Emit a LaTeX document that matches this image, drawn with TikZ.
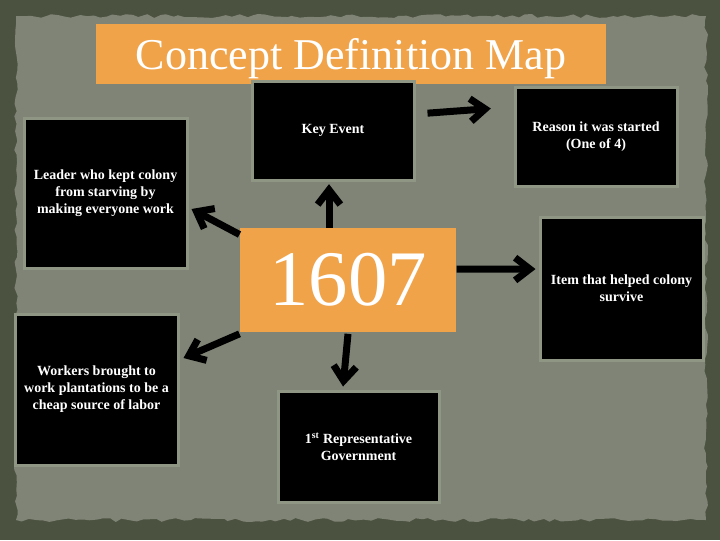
\documentclass[tikz,border=0pt]{standalone}
\usepackage{fontspec}
\setmainfont{Liberation Serif}
\usetikzlibrary{arrows.meta,decorations.pathmorphing}

\definecolor{edgebg}{RGB}{76,82,64}
\definecolor{paperbg}{RGB}{127,132,118}
\definecolor{boxline}{RGB}{143,150,132}
\definecolor{mapyellow}{RGB}{240,163,73}

\tikzset{every picture/.style={line width=0.75pt}}
\tikzset{
  darkbox/.style={draw=boxline, line width=2.25pt, fill=black, text=white, inner sep=0pt,
    align=center, font=\fontsize{10.5}{12.75}\selectfont\bfseries},
  orangebox/.style={fill=mapyellow, text=white, inner sep=0pt},
  maparrow/.style={line width=5.25pt, -{Straight Barb[length=11pt,width=17pt]}},
}

\begin{document}
\begin{tikzpicture}[x=0.75pt,y=0.75pt,yscale=-1,xscale=1]
	\useasboundingbox (0,0) rectangle (720,540);
	\pgfmathsetseed{11}
	
	%Shape: Background
	\fill[edgebg] (0,0) rectangle (720,540);
	\fill[paperbg, decoration={random steps, segment length=5pt, amplitude=1.5pt}, decorate] (16,16) rectangle (706,520);
	
	%Title
	\node[orangebox, minimum width=510*0.75pt, minimum height=60*0.75pt, text depth=0pt, font=\fontsize{33}{36}\selectfont] (title) at (351,54) {Concept Definition Map};
	
	%Boxes round the year
	\node[darkbox, minimum width=162*0.75pt, minimum height=99*0.75pt] (key) at (333,130.5) {Key Event};
	\node[darkbox, minimum width=162*0.75pt, minimum height=99*0.75pt] (reason) at (596,136.5) {Reason it was started\\(One of 4)};
	\node[darkbox, minimum width=163*0.75pt, minimum height=150*0.75pt] (leader) at (105.5,193) {Leader who kept colony\\from starving by\\making everyone work};
	\node[darkbox, minimum width=163*0.75pt, minimum height=143*0.75pt] (item) at (621.5,288.5) {Item that helped colony\\survive};
	\node[darkbox, minimum width=163*0.75pt, minimum height=151*0.75pt] (workers) at (96.5,389.5) {Workers brought to\\work plantations to be a\\cheap source of labor};
	\node[darkbox, minimum width=161*0.75pt, minimum height=111*0.75pt] (rep) at (358.5,446.5) {1\textsuperscript{st} Representative\\Government};
	
	%Year
	\node[orangebox, minimum width=216*0.75pt, minimum height=104*0.75pt, font=\fontsize{59}{60}\selectfont] (year) at (348,280) {1607};
	
	%Arrows (yshift runs downwards here, as yscale=-1)
	\draw[maparrow] ([xshift=9pt,yshift=-13pt]key.east) -- ([xshift=-17pt,yshift=-21pt]reason.west);
	\draw[maparrow] ([xshift=-3pt]key.south |- year.north) -- ([xshift=-3pt,yshift=2pt]key.south);
	\draw[maparrow] ([yshift=5.25pt]year.north west) -- ([xshift=2.25pt,yshift=12pt]leader.east);
	\draw[maparrow] ([yshift=-8.25pt]year.east) -- ([xshift=-2.25pt,yshift=-14.6pt]item.west);
	\draw[maparrow] ([yshift=1pt]year.south west) -- ([xshift=3pt,yshift=-23.6pt]workers.east);
	\draw[maparrow] ([yshift=1pt]year.south) -- ([xshift=-11.6pt,yshift=-2.25pt]rep.north);
\end{tikzpicture}
\end{document}
